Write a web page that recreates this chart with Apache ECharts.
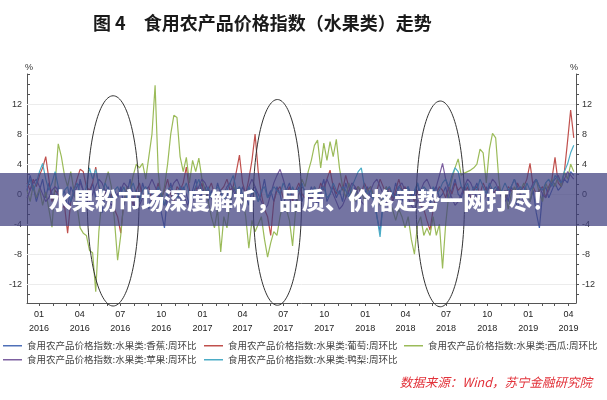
<!DOCTYPE html>
<html><head><meta charset="utf-8">
<script src="https://cdn.jsdelivr.net/npm/echarts@6/dist/echarts.min.js"></script>
<style>html,body{margin:0;padding:0;background:#fff}#c{width:607px;height:400px}</style>
</head><body><div id="c"></div>
<script>
// ---- data ----
const titleText = '图 4　食用农产品价格指数（水果类）走势';
const bannerText = '水果粉市场深度解析，品质、价格走势一网打尽！';
const sourceText = '数据来源：Wind，苏宁金融研究院';
const seriesNames = [
  '食用农产品价格指数:水果类:香蕉:周环比',
  '食用农产品价格指数:水果类:葡萄:周环比',
  '食用农产品价格指数:水果类:西瓜:周环比',
  '食用农产品价格指数:水果类:苹果:周环比',
  '食用农产品价格指数:水果类:鸭梨:周环比'
];
const seriesColors = ['#4f70b8', '#c0504d', '#9bbb59', '#7d60a0', '#4bacc6'];
const firstWeek = [2015, 11, 5]; // weekly observations start (year, monthIndex, day)
const yTickLabels = [-12, -8, -4, 0, 4, 8, 12];
const yRange = [-14.5, 16];

const banana = [
  0.5, 2.5, 1.0, -1.0, 0.5, 2.0, -0.5, 1.5, 0.0, -1.5,
  1.0, -0.5, 0.5, -2.0, 1.0, 0.0, -1.0, 2.0, 0.5, -1.5,
  0.0, 1.5, -0.5, 0.5, -2.5, 0.0, 1.0, -1.0, 0.5, -0.5,
  1.0, -1.5, 0.0, 2.0, -0.5, 0.5, -1.0, 1.5, 0.0, -2.0,
  0.5, -1.0, 1.0, -2.5, -4.5, 0.0, 1.5, -0.5, 0.5, -1.0,
  1.0, 0.0, -1.5, 0.5, 2.0, -0.5, 0.0, 1.0, -1.0, 0.5,
  -0.5, 1.5, 0.0, -1.0, 0.5, -2.0, 1.0, 0.0, -0.5, 1.0,
  0.0, -1.5, 0.5, 1.0, -1.0, 0.0, 2.0, -0.5, 0.5, -1.0,
  1.0, 0.0, -2.0, 0.5, 1.5, -0.5, 0.0, 1.0, -1.0, 0.5,
  -0.5, 1.0, 0.0, -1.5, 0.5, 2.0, -1.0, 0.0, 1.0, -0.5,
  0.5, -1.0, 1.5, 0.0, -0.5, 1.0, -2.0, 0.5, 0.0, 1.0,
  -0.5, 0.0, -3.0, -5.0, -1.0, 1.0, 0.0, -0.5, 1.5, 0.0,
  -1.0, 0.5, 1.0, -0.5, 0.0, 1.5, -1.0, 0.5, 0.0, -1.5,
  0.5, 1.0, -0.5, 0.0, 1.0, -1.0, 0.5, 2.0, 0.0, -0.5,
  1.0, 0.0, -1.0, 0.5, 1.5, -0.5, 0.0, 1.0, -1.5, 0.5,
  0.0, 1.0, -0.5, 0.5, -1.0, 1.0, 0.0, -2.0, 0.5, 1.0,
  0.0, -1.0, 0.5, -2.5, -4.5, 0.0, 1.0, -0.5, 0.5, 1.5,
  0.5, 1.0, 2.0, 1.5, 3.0, 2.5
];
const grape = [
  1.5, 0.5, 2.0, 1.0, 2.5, 3.5, 5.0, 2.0, -1.0, 0.5,
  0.0, -2.0, -1.5, -5.2, -1.0, 0.5, 2.0, 3.3, 3.0, 1.0,
  0.5, 1.5, 3.6, 1.0, -1.0, 0.5, -1.5, 0.0, -2.0, -3.0,
  -5.2, -1.0, 1.0, 0.0, -1.5, 0.5, 1.5, -0.5, 0.5, 1.0,
  -1.0, 0.0, 1.5, -0.5, 0.5, 2.0, 0.0, -1.0, 1.0, 0.5,
  1.5, 3.6, 0.5, -0.5, 1.0, 0.0, 1.5, -1.0, 0.5, 1.5,
  0.0, -1.0, 0.5, 1.0, 2.0, 0.5, 1.0, 3.0, 5.2, 1.5,
  0.0, 2.0, 4.5, 8.0, 3.0, 0.0, -2.0, -3.0, -5.5, -1.0,
  0.5, 1.0, -0.5, 0.0, 1.0, -1.0, 0.5, 1.5, 0.0, -0.5,
  0.5, -1.0, 1.0, 0.0, 1.5, 0.5, 2.0, 3.2, 1.0, 0.0,
  1.5, 0.5, 2.5, 1.0, -0.5, 0.5, 1.0, 0.0, 1.5, 0.5,
  1.0, -0.5, 0.5, 2.0, 1.0, 0.0, 1.0, -1.0, 0.5, 2.0,
  0.5, 1.0, -0.5, 0.0, -1.0, 0.5, -1.5, -2.0, -3.5, -4.8,
  -2.0, 0.0, 1.0, 0.5, -0.5, 1.0, 0.0, 1.5, 0.5, 1.0,
  0.0, 1.0, -0.5, 0.5, 1.0, 0.0, 1.5, 0.5, 1.0, 0.0,
  0.5, 1.0, 0.0, -0.5, 1.0, 0.5, 0.0, 1.5, 0.5, 1.0,
  2.0, 4.1, 1.0, 0.0, 0.5, 1.0, -0.5, 1.0, 2.0, 4.9,
  1.5, 1.0, 3.0, 7.0, 11.2, 7.5
];
const watermelon = [
  0.5, -1.0, 1.2, -0.5, 0.8, -1.5, 0.3, -2.0, -4.4, 1.5,
  6.7, 5.0, 2.5, 1.0, 3.0, 0.5, -1.5, -4.5, -5.2, -5.5,
  -7.5, -7.8, -13.0, -5.0, -0.5, 1.5, 3.0, 1.0, -3.5, -8.8,
  -5.5, -1.0, 1.0, 0.5, 2.5, 4.0, 3.5, 4.1, 2.0, 5.0,
  8.0, 14.5, 3.0, -1.0, 1.0, 4.0, 8.0, 10.5, 10.2, 5.0,
  3.0, 4.9, 1.5, 4.5, 3.0, 4.8, 2.0, 0.5, -1.0, -3.0,
  -4.5, -2.0, -7.7, -3.0, -4.5, -1.0, 1.0, 0.5, -1.5, -0.5,
  -3.0, -7.2, -3.5, -5.0, -4.0, -3.0, -6.0, -8.4, -6.5, -5.0,
  -5.5, -3.0, -1.0, -2.0, -3.5, -6.9, -2.0, 0.0, 2.0, 1.0,
  3.0, 4.5, 6.5, 7.2, 3.5, 6.8, 4.5, 7.0, 5.0, 7.3,
  3.5, 1.0, -0.5, 1.5, 0.0, -1.0, 1.0, 0.5, -1.0, 0.5,
  1.0, -0.5, 0.5, -1.5, 0.0, 1.0, -1.0, -2.0, -3.5, -2.0,
  -3.0, -4.5, -3.0, -6.0, -8.0, -4.0, -3.0, -5.5, -4.5, -5.5,
  -3.0, -5.5, -4.0, -9.9, -4.0, 0.0, 2.0, 3.5, 4.7, 2.5,
  2.8, 3.0, 3.2, 3.5, 4.0, 6.0, 5.5, 1.5, 6.0, 8.1,
  7.5, 2.0, -1.0, 0.5, -2.0, 0.0, 1.0, -1.0, 0.5, 1.5,
  0.5, -1.0, 1.0, 2.0, 0.0, -1.0, 1.5, 0.5, 2.0, 1.0,
  2.5, 1.0, 3.0, 2.0, 4.0, 3.0
];
const apple = [
  -0.5, 0.5, 1.5, 2.0, 1.0, 0.0, -1.0, -0.5, 0.5, 1.0,
  0.5, -0.5, -1.5, -2.0, -1.0, 0.0, 1.0, 1.5, 0.5, -0.5,
  -1.0, 0.0, 1.0, 2.0, 1.5, 0.5, -0.5, -1.5, -1.0, 0.0,
  0.5, 1.5, 1.0, 0.0, -1.0, -2.0, -1.5, -0.5, 0.5, 1.0,
  2.0, 1.0, 0.0, -1.0, -1.5, -0.5, 0.5, 1.5, 2.0, 1.0,
  0.0, -1.0, -2.0, -1.0, 0.0, 1.0, 2.0, 1.5, 0.5, -0.5,
  -1.5, -2.0, -1.0, 0.0, 1.0, 1.5, 0.5, -0.5, -1.5, -1.0,
  0.0, 1.0, 2.0, 1.0, 0.0, -1.0, -2.0, -1.5, 0.0, 1.5,
  2.5, 3.3, 2.0, 0.5, -0.5, -1.5, -1.0, 0.0, 1.0, 0.5,
  -0.5, -1.5, -2.0, -1.0, 0.0, 1.0, 2.0, 1.0, 0.0, -1.0,
  -2.0, -1.5, -0.5, 0.5, 1.5, 1.0, 0.0, -1.0, -1.5, -0.5,
  0.5, 1.5, 2.0, 1.0, 0.0, -1.0, -2.0, -1.0, 0.0, 1.0,
  1.5, 0.5, -0.5, -1.5, -2.0, -1.0, 0.5, 1.5, 2.0, 1.0,
  0.0, 1.0, 2.5, 4.1, 2.0, 0.5, -0.5, -1.5, -1.0, 0.0,
  1.0, 2.0, 1.5, 0.5, -0.5, -1.5, -1.0, 0.0, 1.0, 2.0,
  1.5, 0.5, -0.5, -1.0, 0.0, 1.0, 2.0, 1.0, 0.0, -1.0,
  -0.5, 0.5, 1.5, 2.0, 1.0, 0.0, -0.5, 0.5, 1.5, 2.0,
  2.5, 1.5, 2.0, 3.0, 2.5, 2.0
];
const pear = [
  1.0, 2.0, 0.5, 1.5, 3.0, 4.1, 2.0, 0.5, 1.5, 3.0,
  1.0, -0.5, 0.5, 1.0, -1.0, 0.5, 1.5, 0.0, -0.5, 1.0,
  3.5, 2.0, 3.3, 1.0, 0.0, 1.5, 0.5, -1.0, 0.5, 1.0,
  0.0, 1.0, -0.5, 0.5, 1.5, 0.0, -1.0, 0.5, 1.0, 0.0,
  0.5, -0.5, 1.0, 0.0, -1.5, 0.5, 1.0, 0.0, -0.5, 1.0,
  0.5, 1.5, 0.0, -0.5, 1.0, 2.0, 0.5, 0.0, 1.0, -0.5,
  0.0, 1.0, 0.5, -1.0, 0.5, 1.5, 2.5, 0.5, 1.0, 0.0,
  -0.5, 1.0, 0.0, 0.5, -1.0, 0.5, 1.0, -0.5, 0.0, 1.0,
  0.5, 0.0, 1.5, 0.5, -0.5, 1.0, 0.0, 0.5, 1.5, 0.0,
  0.5, -0.5, 1.0, 0.0, 0.5, 1.0, -0.5, 0.0, 1.5, 0.5,
  0.0, 1.0, 0.5, -0.5, 1.0, 2.0, 3.0, 3.5, 1.0, 0.0,
  0.5, -1.0, -3.0, -5.7, -1.0, 0.5, 1.0, 0.0, -0.5, 1.0,
  0.5, 0.0, 1.0, -0.5, 0.5, 1.5, 0.0, 1.0, 0.5, -0.5,
  1.0, 0.0, 0.5, 1.5, 2.0, 1.0, 2.5, 3.5, 3.0, 1.0,
  0.5, 1.5, 0.0, 1.0, 0.5, 2.0, 1.0, 0.0, 1.5, 0.5,
  1.0, 0.0, 0.5, 1.5, 0.5, 1.0, 2.0, 0.5, 1.0, 0.0,
  1.5, 0.5, 1.0, 2.0, 1.0, 0.5, 1.5, 2.0, 1.0, 2.5,
  2.0, 1.5, 3.0, 4.0, 5.5, 6.5
];
const seriesValues = [banana, grape, watermelon, apple, pear];

// annotation ellipses in data units: centre date, centre value, half-width (days), half-height (value)
const ellipseSpecs = [
  { date: [2016, 5, 15], value: -0.9, halfDays: 58, halfValue: 14 },
  { date: [2017, 5, 18], value: -1.1, halfDays: 54, halfValue: 13.7 },
  { date: [2018, 5, 18], value: -1.3, halfDays: 54, halfValue: 13.7 }
];

// ---- build ----
const DAY = 86400000;
const start = new Date(firstWeek[0], firstWeek[1], firstWeek[2]).getTime();
const weekDates = banana.map((_, i) => start + i * 7 * DAY);
const xMin = new Date(2015, 11, 5).getTime();
const xMax = new Date(2019, 3, 18).getTime();

const quarterTicks = [];
const monthTicks = [];
for (let y = 2016; y <= 2019; y++) {
  for (let m = 0; m < 12; m++) {
    const t = new Date(y, m, 1).getTime();
    if (t < xMin || t > xMax) continue;
    monthTicks.push(t);
    if (m % 3 === 0) quarterTicks.push(t);
  }
}
const yMinorTicks = [];
for (let k = -12; k <= 12; k++) {
  const v = k * 4 / 3;
  if (v >= yRange[0] && v <= yRange[1]) yMinorTicks.push(v);
}

const chart = echarts.init(document.getElementById('c'), null, { renderer: 'canvas' });
const axisColor = '#555';
const numFont = 'Liberation Sans';
const cjkFont = 'Noto Sans CJK SC';

const yAxisBase = (pos) => ({
  type: 'value', position: pos, min: yRange[0], max: yRange[1],
  name: '%', nameLocation: 'end', nameGap: 2,
  nameTextStyle: { fontSize: 9, color: '#333', fontFamily: numFont, align: pos === 'left' ? 'left' : 'right', padding: pos === 'left' ? [0, 0, 0, -2] : [0, -2, 0, 0] },
  axisLine: { show: true, lineStyle: { color: axisColor, width: 1 } },
  axisTick: { show: true, inside: pos === 'left', length: 3, customValues: yMinorTicks, lineStyle: { color: axisColor } },
  axisLabel: { customValues: yTickLabels, fontSize: 9, color: '#333', fontFamily: numFont, margin: pos === 'left' ? 5 : 6, formatter: v => String(Math.round(v)) },
  splitLine: { show: false }
});

const legendPos = [[3, 341], [204, 341], [404, 341], [3, 355], [204, 355]];

const series = seriesNames.map((n, k) => ({
  name: n, type: 'line', xAxisIndex: 0, yAxisIndex: 0,
  data: seriesValues[k].map((v, i) => [weekDates[i], v]),
  showSymbol: false, symbol: 'none',
  lineStyle: { width: 1.2, color: seriesColors[k] },
  itemStyle: { color: seriesColors[k] },
  z: 3 + k
}));
series[0].markLine = {
  silent: true, symbol: 'none', label: { show: false },
  lineStyle: { color: '#ececec', width: 1, type: 'solid' },
  data: yTickLabels.map(v => ({ yAxis: v })),
  z: 1
};

chart.setOption({
  animation: false,
  backgroundColor: '#fff',
  title: {
    text: titleText, left: 88, top: 9,
    textStyle: { fontSize: 18, fontWeight: 'bold', color: '#1a1a1a', fontFamily: cjkFont }
  },
  grid: { left: 27, right: 31, top: 74, bottom: 97, containLabel: false },
  xAxis: {
    type: 'value', min: xMin, max: xMax, scale: true,
    axisLine: { show: true, onZero: false, lineStyle: { color: axisColor, width: 1 } },
    axisTick: { show: true, length: 3, customValues: monthTicks, lineStyle: { color: axisColor } },
    axisLabel: {
      customValues: quarterTicks, fontSize: 9, color: '#222', fontFamily: numFont, lineHeight: 14, margin: 5,
      formatter: v => { const d = new Date(v); return String(d.getMonth() + 1).padStart(2, '0') + '\n' + d.getFullYear(); }
    },
    splitLine: { show: false }
  },
  yAxis: [yAxisBase('left'), yAxisBase('right')],
  legend: seriesNames.map((n, k) => ({
    data: [n], left: legendPos[k][0], top: legendPos[k][1], padding: 0,
    icon: 'rect', itemWidth: 19, itemHeight: 1.5, selectedMode: false,
    textStyle: { fontSize: 9.5, color: '#444', fontFamily: cjkFont }
  })),
  series: series
});

const toPx = (t, v) => chart.convertToPixel({ xAxisIndex: 0, yAxisIndex: 0 }, [t, v]);
const graphics = ellipseSpecs.map(e => {
  const t = new Date(e.date[0], e.date[1], e.date[2]).getTime();
  const c = toPx(t, e.value);
  const r = toPx(t + e.halfDays * DAY, e.value + e.halfValue);
  return {
    type: 'ellipse', z: 50, silent: true,
    shape: { cx: c[0], cy: c[1], rx: Math.abs(r[0] - c[0]), ry: Math.abs(c[1] - r[1]) },
    style: { fill: null, stroke: '#333', lineWidth: 1 }
  };
});
graphics.push({
  type: 'rect', z: 100, silent: true,
  shape: { x: 0, y: 173, width: 607, height: 53 },
  style: { fill: 'rgba(62,62,126,0.72)' }
});
graphics.push({
  type: 'text', z: 101, silent: true, x: 302, y: 200,
  style: {
    text: bannerText, fill: '#fff', font: '900 23px "Noto Sans CJK SC"',
    align: 'center', verticalAlign: 'middle',
    shadowColor: 'rgba(0,0,0,0.35)', shadowBlur: 2, shadowOffsetX: 1, shadowOffsetY: 1
  }
});
graphics.push({
  type: 'text', z: 101, silent: true, x: 592, y: 382,
  style: {
    text: sourceText, fill: '#e2323a', font: 'italic 12.5px "Noto Sans CJK SC"',
    align: 'right', verticalAlign: 'middle'
  }
});
chart.setOption({ graphic: graphics });
</script></body></html>
